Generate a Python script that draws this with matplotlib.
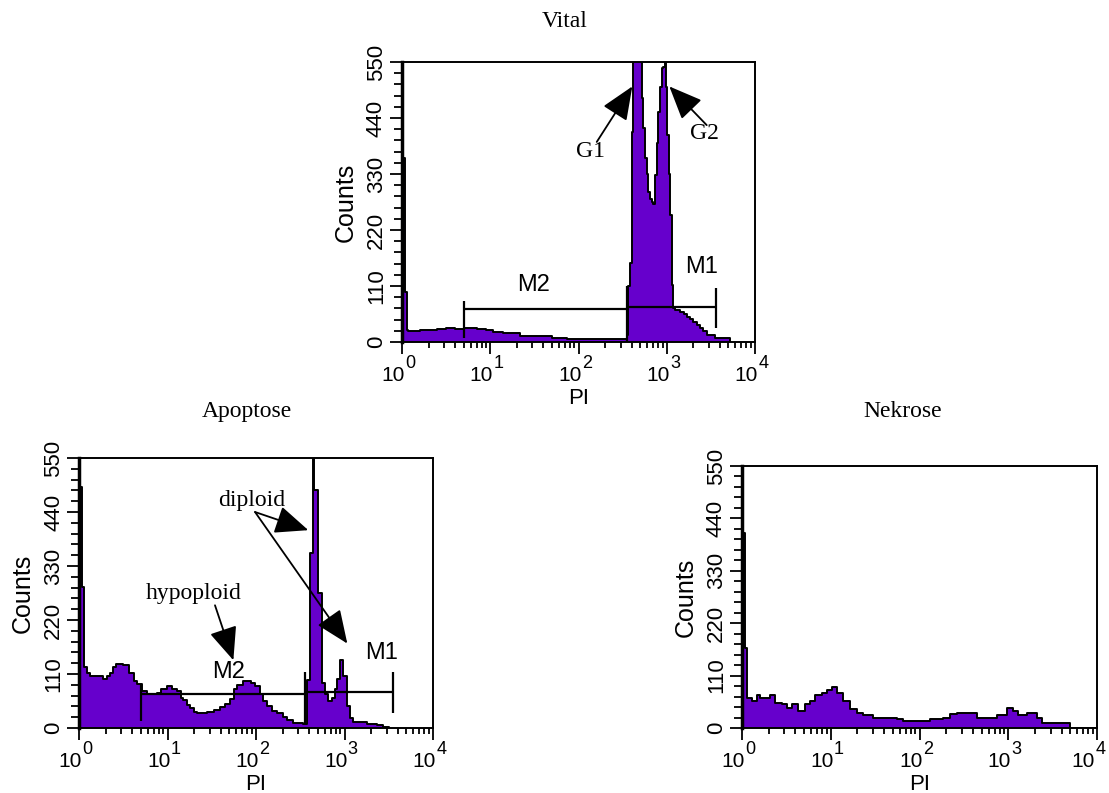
import numpy as np
import matplotlib
matplotlib.use('Agg')
import matplotlib.pyplot as plt
from matplotlib.ticker import MultipleLocator, LogLocator, NullFormatter

# histogram data: bin edges as log10(PI), counts per bin (len(counts) == len(edges) - 1)
vital_edges = [0.0, 0.034, 0.057, 0.07, 0.2, 0.3, 0.4, 0.5, 0.6, 0.7, 0.85, 0.95, 1.035, 1.15,
               1.337, 1.5, 1.7, 1.866, 2.1, 2.3, 2.546, 2.565, 2.584, 2.603, 2.621, 2.716, 2.735,
               2.754, 2.772, 2.79, 2.81, 2.83, 2.848, 2.867, 2.886, 2.904, 2.924, 2.943, 2.962,
               2.975, 2.99, 3.005, 3.02, 3.037, 3.056, 3.075, 3.093, 3.15, 3.19, 3.226, 3.26, 3.30,
               3.34, 3.377, 3.41, 3.453, 3.55, 3.717]
vital_counts = [361, 99, 24, 21, 23, 24, 26, 28, 26, 27, 25, 24, 20, 17,
                12, 11, 8, 6, 6, 5, 14, 110, 155, 412, 600, 480, 420,
                361, 330, 295, 280, 275, 272, 328, 390, 452, 500, 538, 540,
                600, 500, 407, 330, 250, 112, 67, 62, 59, 55, 50, 45, 39,
                33, 27, 22, 14, 7]

apop_edges = [0.0, 0.03, 0.056, 0.087, 0.124, 0.275, 0.313, 0.35, 0.38, 0.42, 0.5, 0.56, 0.62,
              0.651, 0.708, 0.765, 0.878, 0.93, 0.99, 1.05, 1.104, 1.15, 1.179, 1.22, 1.254, 1.30,
              1.33, 1.443, 1.52, 1.594, 1.65, 1.706, 1.75, 1.782, 1.857, 1.94, 1.99, 2.045, 2.08,
              2.12, 2.18, 2.234, 2.30, 2.346, 2.422, 2.534, 2.572, 2.615, 2.645, 2.66, 2.704,
              2.742, 2.78, 2.817, 2.855, 2.89, 2.911, 2.949, 2.987, 3.025, 3.062, 3.1, 3.25,
              3.363, 3.44, 3.5]
apop_counts = [490, 288, 125, 113, 106, 99, 106, 113, 125, 131, 128, 113, 95,
               89, 75, 69, 72, 80, 85, 80, 75, 62, 57, 47, 40, 33,
               30, 32, 36, 42, 48, 60, 80, 88, 95, 92, 85, 70, 55,
               44, 35, 30, 22, 16, 11, 9, 97, 356, 600, 485, 276,
               92, 69, 55, 62, 80, 99, 139, 106, 44, 20, 13, 9,
               6, 2]

nekr_edges = [0.0, 0.034, 0.06, 0.109, 0.165, 0.20, 0.24, 0.315, 0.372, 0.447, 0.503, 0.56,
              0.635, 0.71, 0.766, 0.822, 0.897, 0.954, 1.01, 1.067, 1.142, 1.217, 1.292, 1.367,
              1.48, 1.60, 1.667, 1.743, 1.817, 2.043, 2.118, 2.268, 2.344, 2.419, 2.644, 2.870,
              2.982, 3.057, 3.114, 3.207, 3.32, 3.376, 3.695, 4.0]
nekr_counts = [409, 167, 62, 56, 70, 62, 62, 70, 53, 50, 43, 50,
               36, 50, 56, 70, 73, 80, 87, 73, 56, 39, 32, 27,
               20, 22, 22, 18, 15, 15, 18, 22, 29, 32, 22, 27,
               41, 36, 27, 32, 22, 10, 1]

# gates: (low PI, high PI, count level) and end ticks (PI, bottom, top)
vital_gates = {'M2': (5, 355, 64), 'M1': (355, 3600, 68)}
vital_gate_ticks = [(5, 8, 80), (355, 0, 110), (3600, 27, 106)]
vital_gate_labels = {'M2': (31, 112), 'M1': (2500, 148)}

apop_gates = {'M2': (5, 360, 69), 'M1': (360, 3560, 73)}
apop_gate_ticks = [(5, 14, 89), (360, 9, 115), (3560, 30, 115)]
apop_gate_labels = {'M2': (49, 115), 'M1': (2600, 152)}

PURPLE = '#6600cc'
SERIF = 'Liberation Serif'
SANS = 'Liberation Sans'

plt.rcParams['font.family'] = SANS

fig = plt.figure(figsize=(11.09, 7.93), dpi=100)
W, H = 1109, 793


def px_axes(l, t, r, b):
    return fig.add_axes([l / W, 1 - b / H, (r - l) / W, (b - t) / H])


def draw_hist(ax, edges_log, counts):
    x = 10 ** np.array(edges_log)
    y = list(counts) + [0]
    ax.fill_between(x, y, step='post', color=PURPLE, lw=0)
    ax.step(x, y, where='post', color='k', lw=1.4)


def setup(ax, tight_right=False):
    ax.set_xscale('log')
    ax.set_xlim(1, 1e4)
    ax.set_ylim(0, 550)
    ax.xaxis.set_major_locator(LogLocator(base=10, numticks=10))
    ax.xaxis.set_minor_locator(LogLocator(base=10, subs=np.arange(2, 10), numticks=10))
    ax.xaxis.set_major_formatter(NullFormatter())
    ax.xaxis.set_minor_formatter(NullFormatter())
    ax.yaxis.set_major_locator(MultipleLocator(110))
    ax.yaxis.set_minor_locator(MultipleLocator(22))
    ax.tick_params(axis='x', which='major', length=8.5, width=1.3, direction='out')
    ax.tick_params(axis='x', which='minor', length=4.3, width=1.3, direction='out')
    ax.tick_params(axis='y', which='major', length=8.8, width=1.3, direction='out',
                   labelsize=16, pad=2, labelrotation=90)
    ax.tick_params(axis='y', which='minor', length=5.5, width=1.3, direction='out')
    for lab in ax.get_yticklabels():
        lab.set_va('center')
    for s in ax.spines.values():
        s.set_linewidth(1.4)
    ax.spines['left'].set_linewidth(2.5)
    # tick labels 10^k with large superscripts
    for k in range(5):
        dx = -1.5 if (tight_right and k == 4) else 2
        ax.annotate('10', xy=(10 ** k, 0), xycoords=('data', 'axes fraction'),
                    xytext=(dx, -17.5), textcoords='offset points', ha='right', va='top',
                    fontsize=15, annotation_clip=False)
        ax.annotate(str(k), xy=(10 ** k, 0), xycoords=('data', 'axes fraction'),
                    xytext=(dx + 0.3, -9.5), textcoords='offset points', ha='left', va='top',
                    fontsize=13, annotation_clip=False)
    bb = ax.get_position()
    wpx = bb.width * W
    hpx = bb.height * H
    ax.set_ylabel('Counts', fontsize=18)
    ax.yaxis.set_label_coords(-44 / wpx, 0.5)
    ax.set_xlabel('PI', fontsize=16)
    ax.xaxis.set_label_coords(0.5, -46 / hpx)


def draw_gates(ax, gates, ticks, labels):
    for name, (lo, hi, lvl) in gates.items():
        ax.hlines(lvl, lo, hi, color='k', lw=1.6)
    for x, y0, y1 in ticks:
        ax.vlines(x, y0, y1, color='k', lw=1.6)
    for name, (x, y) in labels.items():
        ax.text(x, y, name, ha='center', va='center', fontsize=17, fontfamily=SANS)


arrow_kw = dict(arrowstyle='-|>,head_length=0.9,head_width=0.38', mutation_scale=23,
                color='k', lw=1.3, shrinkA=0, shrinkB=0)

# Vital
ax1 = px_axes(402, 62, 755, 342)
draw_hist(ax1, vital_edges, vital_counts)
setup(ax1)
draw_gates(ax1, vital_gates, vital_gate_ticks, vital_gate_labels)
ax1.text(135, 374, 'G1', ha='center', va='center', fontsize=17, fontfamily=SERIF)
ax1.annotate('', xy=(407, 502), xytext=(161, 393), arrowprops=arrow_kw)
ax1.text(2640, 410, 'G2', ha='center', va='center', fontsize=17, fontfamily=SERIF)
ax1.annotate('', xy=(1070, 502), xytext=(2837, 426), arrowprops=arrow_kw)

# Apoptose
ax2 = px_axes(79, 458, 433, 728)
draw_hist(ax2, apop_edges, apop_counts)
setup(ax2)
draw_gates(ax2, apop_gates, apop_gate_ticks, apop_gate_labels)
ax2.text(89, 464, 'diploid', ha='center', va='center', fontsize=17, fontfamily=SERIF)
ax2.annotate('', xy=(390, 403), xytext=(97.5, 440), arrowprops=arrow_kw)
ax2.annotate('', xy=(1076, 172), xytext=(97.5, 440), arrowprops=arrow_kw)
ax2.text(19.6, 274, 'hypoploid', ha='center', va='center', fontsize=17, fontfamily=SERIF)
ax2.annotate('', xy=(55.5, 138), xytext=(34.4, 250), arrowprops=arrow_kw)

# Nekrose
ax3 = px_axes(742, 466, 1097, 728)
draw_hist(ax3, nekr_edges, nekr_counts)
setup(ax3, tight_right=True)

fig.text(565 / W, 1 - 27 / H, 'Vital', ha='center', va='baseline', fontsize=17, fontfamily=SERIF)
fig.text(247 / W, 1 - 417 / H, 'Apoptose', ha='center', va='baseline', fontsize=17, fontfamily=SERIF)
fig.text(903 / W, 1 - 417 / H, 'Nekrose', ha='center', va='baseline', fontsize=17, fontfamily=SERIF)

fig.savefig('out.png', dpi=100)
